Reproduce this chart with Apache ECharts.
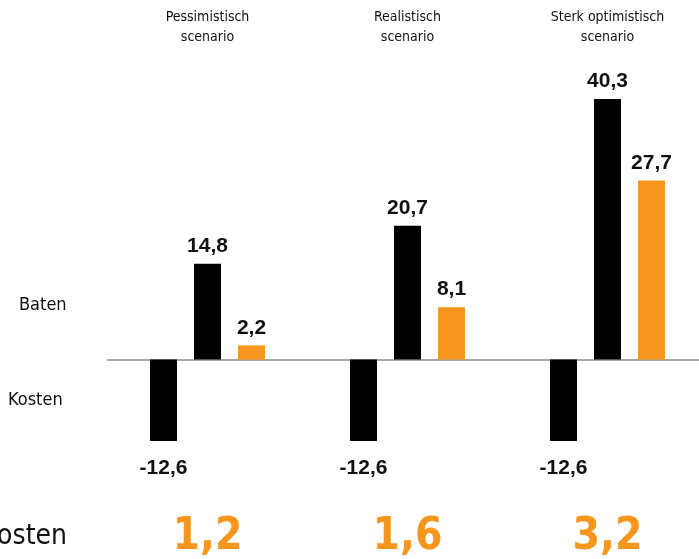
<!DOCTYPE html>
<html><head><meta charset="utf-8">
<script src="https://cdn.jsdelivr.net/npm/echarts@6/dist/echarts.min.js"></script>
<style>html,body{margin:0;padding:0;background:#fff}#c{width:699px;height:559px}</style>
</head><body><div id="c"></div>
<script>
const scenarios = ['Pessimistisch\nscenario', 'Realistisch\nscenario', 'Sterk optimistisch\nscenario'];
const kosten = [-12.6, -12.6, -12.6];
const baten = [14.8, 20.7, 40.3];
const netto = [2.2, 8.1, 27.7];
const ratios = ['1,2', '1,6', '3,2'];
const rowLabels = ['Baten', 'Kosten', 'Baten/kosten'];

const BLACK = '#000000', ORANGE = '#F7961E';
const COND = '"DejaVu Sans Condensed", "Roboto", sans-serif';
const BOLD = '"Liberation Sans", Arial, sans-serif';
const fmt = p => String(p.value).replace('.', ',');

function barSeries(name, data, color) {
  return {
    name, type: 'bar', data, xAxisIndex: 0, barWidth: 27, barGap: '63%',
    itemStyle: { color },
    label: {
      show: true, formatter: fmt, color: '#111', fontFamily: BOLD, fontWeight: 'bold', fontSize: 21,
      position: 'top', distance: 7
    }
  };
}
const sKosten = barSeries('Kosten', kosten, BLACK);
sKosten.label.position = 'bottom';
sKosten.label.distance = 17;

const chart = echarts.init(document.getElementById('c'), null, { renderer: 'canvas' });
chart.setOption({
  animation: false,
  grid: { left: 107.5, top: 62, width: 600, height: 427, outerBoundsMode: 'none', containLabel: false },
  xAxis: [
    { type: 'category', data: scenarios, axisLine: { show: true, onZero: true, lineStyle: { color: '#8c8c8c', width: 1.5 } },
      axisTick: { show: false }, axisLabel: { show: false } },
    { type: 'category', data: scenarios, position: 'top', axisLine: { show: false }, axisTick: { show: false },
      axisLabel: { show: true, margin: 15, fontFamily: COND, fontSize: 14, lineHeight: 20, color: '#111' } },
    { type: 'category', data: ratios, position: 'bottom', axisLine: { show: false, onZero: false }, axisTick: { show: false },
      axisLabel: { show: true, margin: 27, fontFamily: COND, fontWeight: 'bold', fontSize: 44, lineHeight: 44, color: ORANGE } }
  ],
  yAxis: { type: 'value', min: -20, max: 46, show: false },
  series: [sKosten, barSeries('Baten', baten, BLACK), barSeries('Netto', netto, ORANGE)],
  graphic: [
    { type: 'text', left: 19, top: 296, style: { text: rowLabels[0], fontFamily: COND, fontSize: 18, fill: '#111' } },
    { type: 'text', left: 8, top: 391, style: { text: rowLabels[1], fontFamily: COND, fontSize: 18, fill: '#111' } },
    { type: 'text', x: 67, y: 537, style: { text: rowLabels[2], align: 'right', verticalAlign: 'middle', fontFamily: COND, fontSize: 28, fill: '#111' } }
  ]
});
</script></body></html>
